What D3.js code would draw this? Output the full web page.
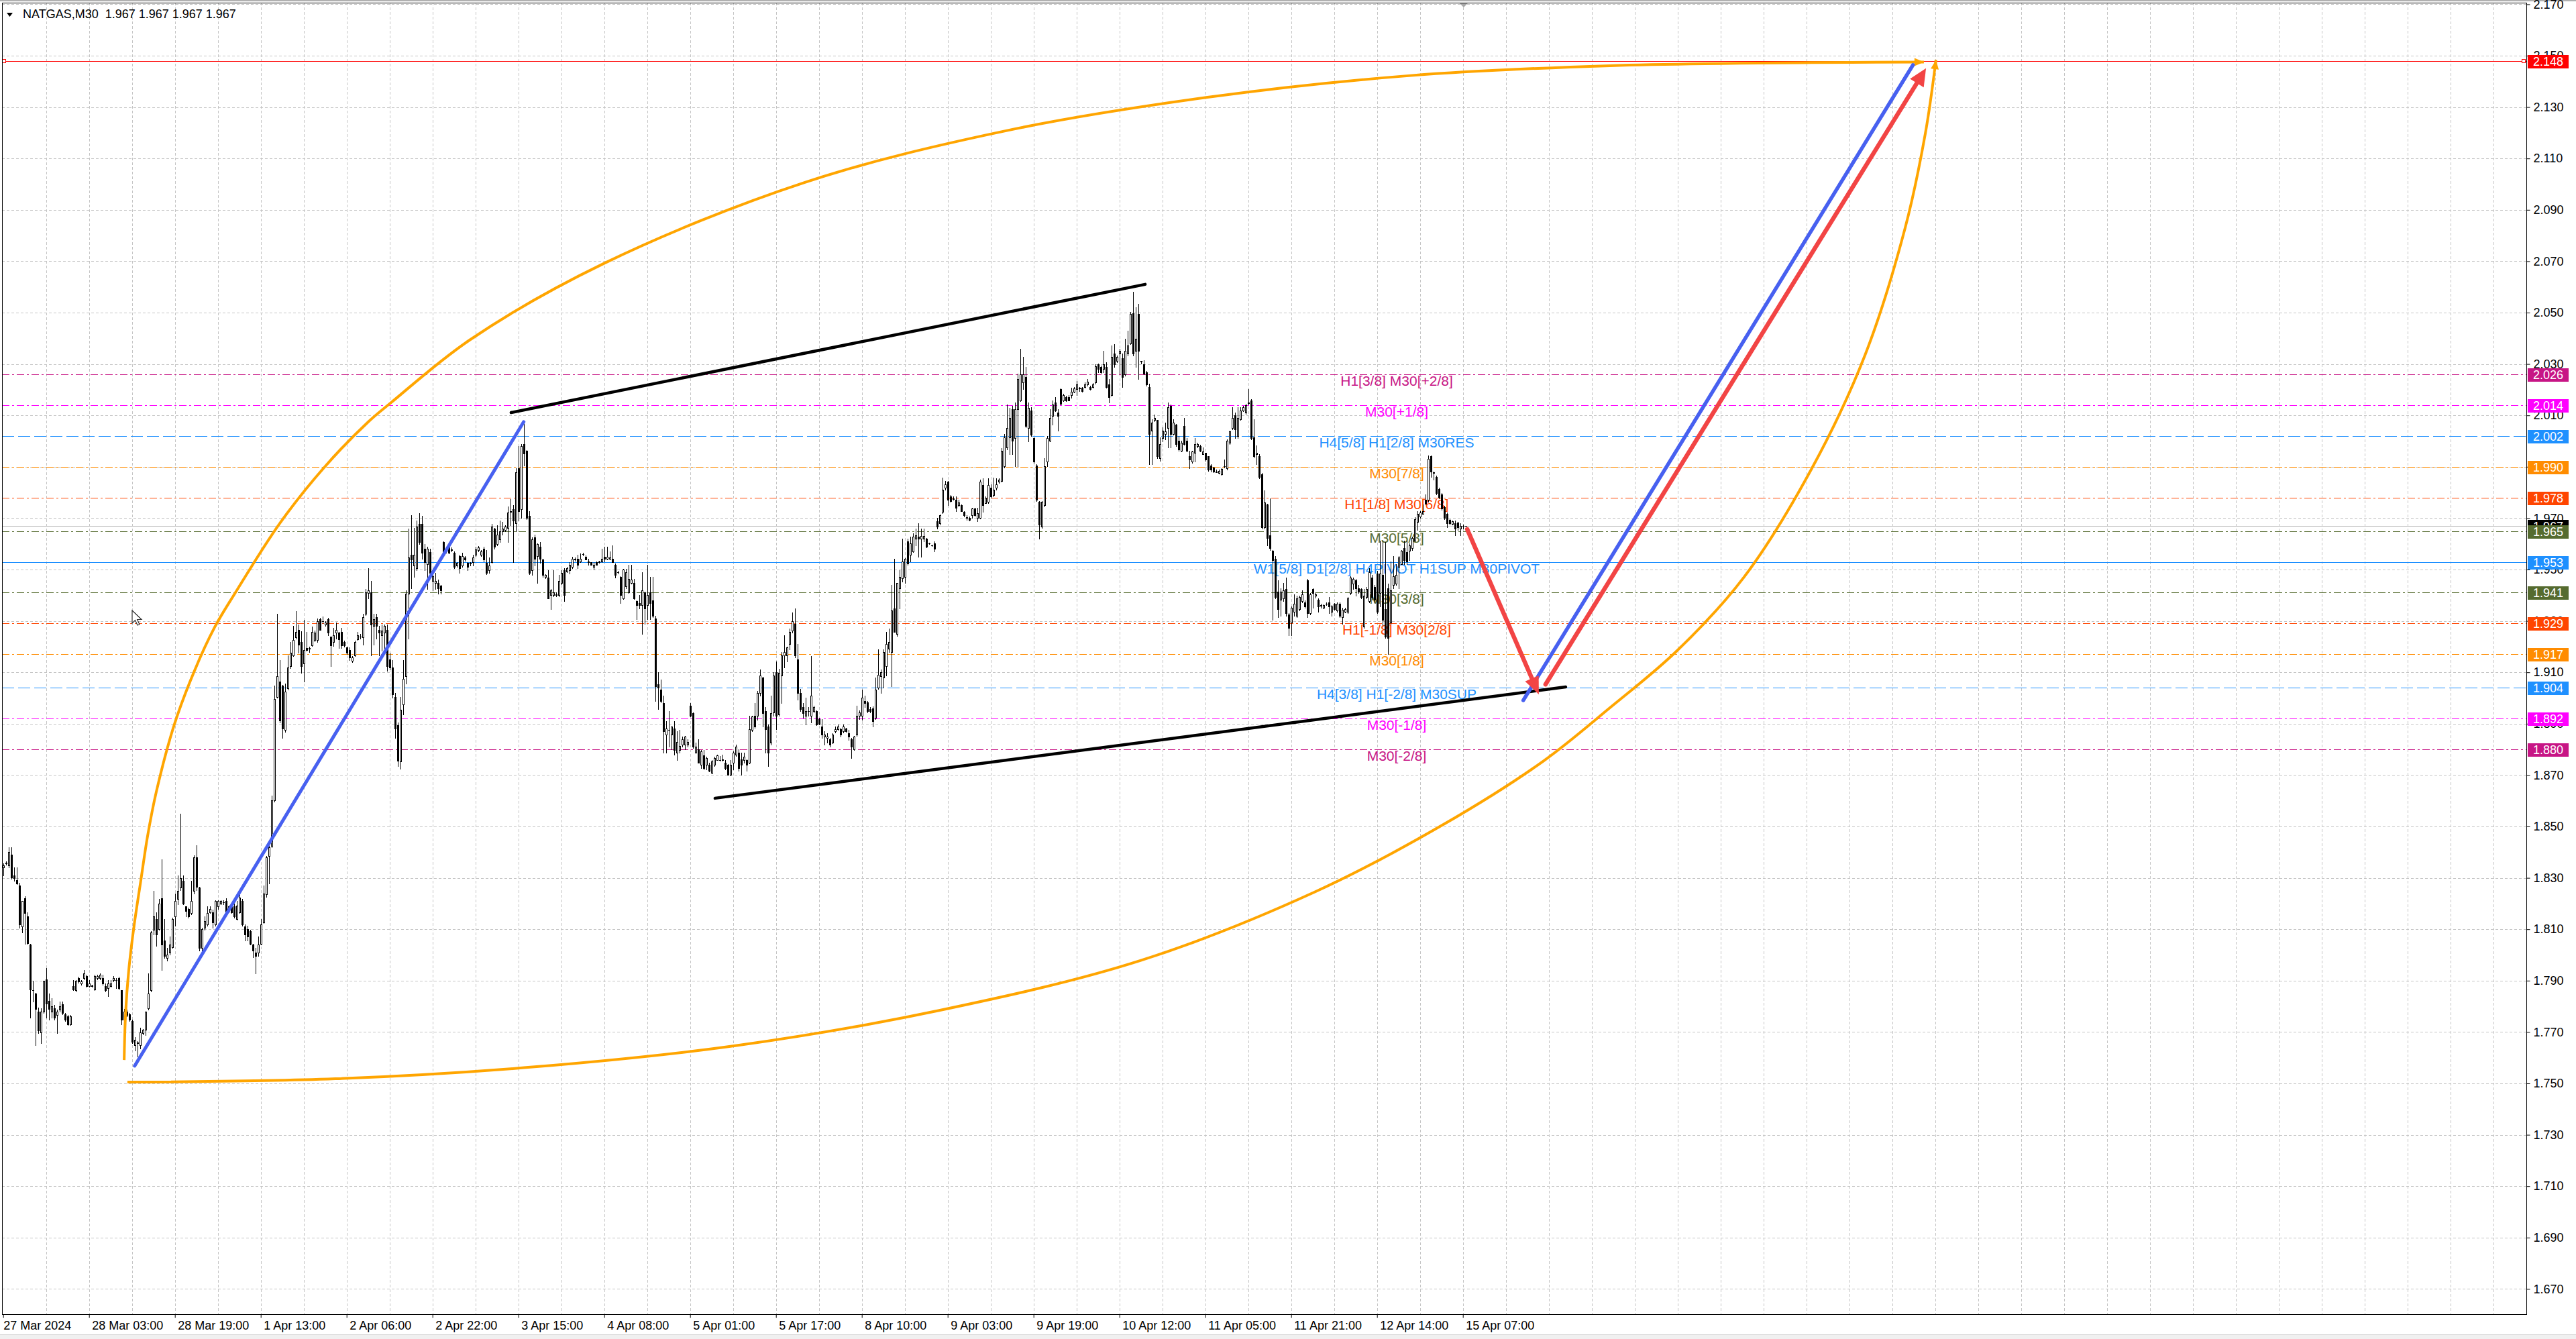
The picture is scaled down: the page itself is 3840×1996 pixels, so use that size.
<!DOCTYPE html>
<html>
<head>
<meta charset="utf-8">
<script src="https://cdn.jsdelivr.net/npm/d3@7/dist/d3.min.js"></script>
<style>
html,body{margin:0;padding:0;background:#fff;overflow:hidden;}
svg{display:block;}
</style>
</head>
<body>
<svg id="chart" width="3840" height="1996" xmlns="http://www.w3.org/2000/svg"></svg>
<script>
// ===== DATA (M30 bars, prices x 10000) =====
const opens=[
18340,18357,18349,18391,18310,18290,18271,18110,18220,18149,
18040,17864,17849,17779,17698,17779,17905,17820,17779,17792,
17766,17788,17809,17770,17761,17731,17879,17862,17910,17888,
17910,17918,17879,17880,17866,17910,17910,17910,17879,17871,
17879,17901,17903,17910,17862,17749,17779,17770,17744,17649,
17660,17649,17696,17709,17792,17862,18097,18140,18101,18220,
18057,17988,18010,18031,18149,18218,18262,18288,18188,18179,
18162,18249,18379,18262,18027,18105,18118,18166,18166,18118,
18188,18201,18206,18210,18171,18188,18188,18140,18166,18210,
18110,18101,18092,18040,18010,18010,18044,18127,18236,18385,
18423,18601,19003,19065,19047,18877,19038,19125,19166,19235,
19266,19217,19134,19194,19192,19205,19226,19226,19306,19300,
19286,19306,19238,19217,19254,19254,19256,19217,19196,19187,
19146,19166,19229,19240,19235,19327,19408,19410,19281,19315,
19266,19244,19254,19266,19150,19120,19003,18895,18754,18975,
19085,19407,19557,19516,19506,19677,19677,19580,19520,19569,
19456,19447,19447,19437,19608,19571,19585,19578,19566,19516,
19552,19516,19548,19525,19524,19529,19557,19575,19557,19580,
19525,19497,19529,19658,19598,19617,19649,19654,19663,19725,
19736,19681,19893,19736,19989,19962,19709,19497,19626,19552,
19589,19539,19470,19468,19401,19401,19403,19401,19447,19497,
19493,19497,19510,19541,19541,19532,19560,19550,19532,19528,
19510,19528,19530,19532,19550,19541,19541,19541,19519,19490,
19471,19389,19436,19410,19449,19449,19376,19369,19362,19412,
19362,19412,19380,19310,19054,19032,18980,18858,18877,18858,
18881,18788,18797,18818,18818,18818,18971,18940,18788,18801,
18740,18777,18740,18740,18710,18740,18758,18759,18758,18749,
18740,18701,18749,18779,18788,18762,18758,18758,18749,18875,
18932,18932,19019,19080,18949,18888,18827,18945,19101,18936,
19088,19167,19167,19210,19262,19289,19149,19019,18966,18932,
18950,18932,18949,18949,18919,18888,18849,18845,18840,18827,
18871,18879,18879,18871,18881,18862,18840,18801,18858,18932,
18932,18988,18984,18958,18960,18923,19040,19084,19080,19123,
19193,19180,19349,19249,19428,19467,19471,19610,19558,19571,
19619,19628,19619,19619,19619,19602,19594,19602,19689,19680,
19724,19819,19841,19785,19776,19772,19750,19750,19724,19703,
19702,19711,19737,19702,19702,19830,19758,19763,19819,19790,
19819,19841,19845,19902,19976,20015,20124,20011,20124,20159,
20228,20250,20050,20120,20011,19906,19763,19667,19750,19920,
20002,20098,20150,20111,20202,20159,20172,20172,20180,20192,
20202,20207,20207,20211,20220,20211,20211,20228,20300,20289,
20280,20289,20220,20180,20341,20311,20341,20322,20259,20341,
20381,20498,20350,20494,20311,20300,20268,20211,20041,20081,
20081,19933,20011,20028,20050,20137,20028,20063,20002,19963,
20059,20002,19941,19920,19954,19980,19980,19950,19954,19941,
19906,19898,19880,19876,19870,19901,19893,19994,20050,20100,
20020,20085,20120,20111,20148,20159,20015,19950,19942,19870,
19665,19752,19634,19572,19541,19413,19382,19387,19423,19325,
19294,19336,19320,19346,19377,19372,19459,19331,19423,19397,
19382,19361,19351,19366,19372,19336,19367,19341,19367,19315,
19336,19336,19408,19444,19459,19428,19423,19279,19392,19377,
19469,19433,19485,19408,19480,19346,19428,19294,19439,19444,
19510,19521,19583,19567,19572,19583,19613,19685,19706,19716,
19772,19772,19942,19878,19860,19814,19793,19742,19716,19693,
19677,19680,19682,19660,19670,19670];
const highs=[
18357,18365,18418,18418,18340,18340,18281,18210,18229,18166,
18044,17899,17852,17796,17792,17899,17949,17850,17831,17805,
17788,17818,17818,17775,17766,17766,17901,17901,17914,17901,
17940,17923,17901,17884,17923,17923,17927,17923,17888,17901,
17901,17918,17910,17914,17864,17790,17788,17775,17749,17679,
17665,17718,17712,17779,17927,18092,18249,18166,18218,18371,
18140,18027,18071,18145,18240,18310,18549,18310,18190,18185,
18288,18388,18427,18266,18105,18149,18188,18188,18175,18214,
18214,18214,18214,18220,18192,18192,18201,18210,18236,18218,
18118,18114,18097,18044,18027,18071,18140,18271,18385,18427,
18620,19047,19327,19148,19050,19056,19166,19217,19281,19337,
19286,19260,19304,19258,19200,19277,19262,19310,19313,19318,
19300,19313,19240,19272,19295,19258,19272,19222,19200,19196,
19162,19222,19258,19250,19327,19424,19506,19456,19327,19327,
19281,19286,19286,19286,19175,19148,19019,18904,19005,19148,
19419,19658,19711,19663,19690,19720,19709,19598,19589,19580,
19488,19488,19461,19440,19610,19589,19589,19585,19571,19530,
19557,19566,19552,19529,19530,19557,19589,19592,19575,19589,
19575,19548,19677,19663,19672,19690,19686,19672,19745,19773,
19750,19893,19980,19989,20072,19966,19727,19626,19635,19603,
19608,19543,19482,19497,19424,19497,19410,19479,19497,19506,
19510,19528,19550,19548,19558,19563,19565,19554,19541,19530,
19528,19532,19535,19580,19589,19589,19571,19593,19523,19495,
19473,19502,19502,19519,19519,19463,19380,19402,19489,19415,
19519,19471,19471,19319,19101,19071,19010,18910,18949,18890,
18910,18871,18875,18849,18853,18840,18980,18945,18827,18840,
18797,18797,18771,18749,18758,18771,18779,18775,18779,18758,
18742,18758,18792,18818,18801,18788,18788,18762,18932,18932,
18980,19027,19110,19082,18966,18897,19010,19101,19141,19114,
19180,19245,19201,19269,19332,19349,19210,19036,18980,19001,
18966,19162,18970,18953,18923,18919,18871,18862,18845,18862,
18888,18897,18884,18897,18885,18875,18845,18853,18971,18953,
19032,19010,18988,18966,18968,19080,19188,19110,19188,19258,
19271,19441,19541,19449,19497,19619,19545,19619,19628,19641,
19658,19680,19658,19658,19624,19604,19597,19610,19702,19715,
19859,19845,19845,19790,19785,19785,19772,19754,19726,19711,
19705,19741,19740,19741,19850,19854,19785,19854,19832,19859,
19854,19854,19972,20028,20141,20128,20137,20150,20263,20359,
20328,20289,20150,20133,20015,19911,19767,19767,19933,20020,
20124,20159,20172,20124,20204,20185,20176,20180,20207,20211,
20233,20211,20210,20228,20241,20215,20225,20300,20301,20293,
20350,20307,20241,20372,20378,20333,20359,20341,20398,20429,
20502,20581,20520,20533,20312,20315,20272,20224,20085,20102,
20083,20015,20054,20072,20150,20141,20085,20067,20020,20002,
20089,20011,19963,19963,20011,19994,19985,19976,19955,19942,
19911,19900,19890,19890,19893,19928,20007,20041,20133,20111,
20133,20133,20137,20146,20202,20163,20086,19983,19950,19875,
19809,19755,19778,19575,19552,19459,19428,19449,19469,19331,
19356,19403,19397,19397,19418,19380,19464,19408,19428,19410,
19387,19367,19365,19372,19392,19361,19370,19372,19372,19351,
19350,19392,19474,19469,19464,19439,19428,19423,19433,19505,
19480,19439,19495,19613,19613,19608,19444,19531,19552,19521,
19552,19577,19613,19613,19603,19628,19703,19726,19726,19752,
19793,19944,19944,19880,19865,19819,19798,19747,19721,19695,
19690,19690,19685,19680,19675,19670];
const lows=[
18310,18350,18340,18297,18288,18275,18105,18088,18044,18044,
17757,17818,17649,17696,17657,17775,17757,17749,17757,17749,
17696,17779,17770,17744,17727,17727,17862,17858,17892,17884,
17905,17875,17877,17875,17862,17905,17905,17884,17858,17840,
17875,17897,17871,17866,17731,17740,17760,17744,17657,17627,
17605,17636,17690,17688,17788,17858,18079,18036,18097,17940,
17988,17979,18001,18027,18114,18197,18253,18197,18149,18145,
18158,18240,18253,18018,18018,18097,18114,18162,18105,18114,
18179,18197,18197,18162,18166,18162,18145,18136,18162,18114,
18057,18057,18040,17992,17927,17997,18040,18123,18227,18279,
18418,18596,19001,18904,18845,18868,19033,19116,19164,19231,
19175,19097,19065,19185,19180,19203,19220,19217,19264,19292,
19280,19244,19125,19203,19231,19194,19194,19200,19170,19148,
19140,19162,19226,19232,19208,19323,19387,19166,19208,19231,
19166,19185,19175,19107,19110,19001,18845,18734,18725,18936,
19056,19231,19428,19470,19497,19598,19543,19497,19424,19483,
19419,19424,19405,19405,19562,19566,19562,19570,19506,19510,
19488,19511,19535,19497,19515,19516,19552,19570,19552,19532,
19483,19488,19525,19580,19594,19608,19635,19650,19608,19672,
19529,19649,19690,19700,19906,19695,19483,19479,19516,19447,
19525,19470,19465,19387,19346,19396,19395,19396,19442,19378,
19490,19484,19506,19535,19506,19530,19555,19539,19519,19517,
19499,19517,19526,19530,19532,19539,19539,19528,19469,19484,
19369,19384,19428,19409,19445,19384,19308,19349,19249,19289,
19308,19308,19315,18988,18958,18984,18788,18788,18810,18801,
18779,18758,18788,18810,18801,18810,18927,18805,18788,18749,
18727,18723,18723,18714,18705,18736,18758,18757,18757,18723,
18701,18698,18723,18775,18718,18701,18749,18718,18745,18871,
18884,18914,19010,18888,18788,18736,18818,18932,18879,18932,
18980,19119,19141,19188,19254,19158,18993,18949,18923,18897,
18932,18906,18945,18893,18897,18845,18818,18827,18810,18823,
18866,18875,18849,18866,18868,18836,18766,18797,18853,18919,
18914,18966,18945,18945,18888,18919,19036,19019,19040,19088,
19180,19045,19258,19241,19349,19454,19449,19519,19532,19567,
19593,19550,19550,19610,19585,19600,19591,19571,19658,19676,
19719,19811,19750,19763,19772,19728,19745,19726,19706,19693,
19690,19702,19708,19689,19698,19724,19758,19758,19780,19785,
19811,19837,19841,19898,19967,19950,19950,19902,19902,20155,
20202,20054,19998,20020,19915,19767,19619,19663,19745,19902,
19998,20063,20115,20041,20141,20155,20155,20159,20168,20189,
20180,20194,20192,20207,20215,20200,20208,20224,20268,20265,
20268,20207,20150,20176,20289,20307,20263,20211,20255,20333,
20376,20333,20289,20241,20302,20259,20215,19911,19911,20076,
19933,19924,19998,20007,19976,19976,20024,19980,19963,19959,
19985,19959,19893,19915,19920,19976,19959,19950,19924,19885,
19880,19878,19878,19874,19867,19898,19889,19989,20046,20011,
20011,20081,20115,20107,20141,20007,19937,19911,19855,19660,
19660,19593,19577,19305,19387,19315,19320,19377,19320,19243,
19243,19320,19315,19341,19372,19350,19315,19325,19351,19390,
19336,19351,19348,19361,19331,19320,19343,19336,19315,19289,
19333,19331,19403,19423,19397,19408,19387,19274,19387,19372,
19382,19372,19331,19356,19284,19233,19171,19289,19428,19439,
19428,19521,19521,19521,19536,19577,19613,19654,19701,19716,
19757,19765,19860,19850,19793,19778,19732,19695,19665,19675,
19675,19634,19654,19634,19660,19670];
const closes=[
18349,18359,18401,18301,18298,18279,18118,18210,18162,18046,
17866,17862,17790,17707,17779,17899,17810,17790,17801,17757,
17779,17801,17774,17749,17731,17761,17866,17899,17897,17897,
17927,17879,17890,17879,17918,17918,17923,17888,17862,17888,
17888,17910,17901,17871,17749,17779,17766,17749,17662,17670,
17657,17698,17709,17779,17849,18088,18149,18079,18201,18040,
17997,18001,18040,18140,18210,18249,18298,18201,18171,18149,
18210,18379,18266,18027,18101,18131,18162,18179,18127,18210,
18210,18210,18205,18166,18188,18166,18149,18192,18223,18118,
18079,18071,18044,18018,17997,18040,18118,18240,18379,18418,
18601,18996,19085,18913,18881,19024,19120,19175,19226,19256,
19208,19125,19187,19187,19194,19256,19254,19300,19266,19299,
19295,19254,19205,19244,19266,19229,19205,19205,19177,19157,
19159,19217,19244,19238,19315,19410,19419,19286,19306,19281,
19254,19263,19281,19125,19120,19015,18881,18757,18955,19074,
19407,19548,19539,19557,19667,19608,19566,19529,19580,19488,
19474,19456,19428,19419,19566,19580,19566,19577,19511,19525,
19506,19552,19539,19511,19525,19548,19578,19587,19571,19539,
19488,19516,19667,19589,19635,19649,19658,19667,19722,19727,
19690,19879,19727,19980,19952,19700,19488,19617,19543,19598,
19543,19479,19479,19387,19419,19410,19401,19456,19488,19401,
19506,19519,19541,19540,19519,19541,19561,19539,19528,19519,
19519,19519,19532,19541,19541,19550,19548,19530,19480,19489,
19402,19499,19489,19463,19461,19389,19362,19361,19419,19349,
19402,19369,19319,19045,19040,18988,18871,18881,18875,18890,
18797,18829,18814,18840,18849,18829,18932,18810,18810,18749,
18792,18727,18766,18718,18753,18766,18777,18758,18760,18727,
18701,18740,18788,18810,18727,18740,18771,18740,18879,18927,
18888,19019,19088,18940,18879,18788,18940,19088,18932,19097,
19167,19180,19197,19258,19299,19167,19019,18958,18940,18949,
18949,19010,18966,18897,18899,18858,18858,18849,18818,18858,
18879,18888,18858,18888,18871,18849,18810,18849,18932,18945,
19001,18980,18949,18949,18910,19032,19090,19101,19180,19210,
19219,19341,19258,19449,19471,19532,19541,19523,19602,19628,
19632,19619,19630,19630,19589,19602,19593,19580,19667,19711,
19811,19832,19772,19767,19775,19741,19760,19728,19711,19702,
19693,19737,19711,19719,19841,19750,19780,19828,19785,19811,
19832,19850,19963,20015,20050,20089,20002,20124,20241,20259,
20259,20059,20128,20024,19920,19772,19676,19763,19902,20011,
20089,20141,20120,20098,20146,20180,20159,20159,20192,20204,
20220,20206,20194,20220,20230,20202,20221,20291,20280,20268,
20300,20211,20172,20328,20298,20328,20350,20250,20350,20372,
20494,20341,20398,20350,20310,20263,20220,20028,20072,20089,
19941,19989,20041,20039,20133,20028,20072,19989,19967,19994,
19989,19963,19928,19959,19989,19989,19963,19959,19928,19889,
19889,19880,19879,19885,19891,19902,20002,20037,20089,20046,
20089,20120,20133,20140,20150,20011,19942,19955,19860,19665,
19762,19624,19583,19536,19392,19346,19413,19418,19331,19274,
19351,19367,19389,19392,19403,19356,19331,19403,19408,19403,
19356,19360,19361,19367,19356,19356,19346,19367,19320,19344,
19346,19387,19469,19464,19428,19413,19392,19397,19423,19490,
19392,19382,19336,19485,19305,19238,19233,19418,19474,19480,
19546,19572,19536,19531,19593,19623,19695,19716,19721,19726,
19757,19930,19880,19875,19798,19783,19737,19701,19680,19680,
19687,19660,19665,19670,19670,19670];

const dateTickBars=[0,32,64,96,128,160,192,224,256,288,320,352,384,416,448,480,512,544];
const dateTickLabels=["27 Mar 2024","28 Mar 03:00","28 Mar 19:00","1 Apr 13:00","2 Apr 06:00","2 Apr 22:00","3 Apr 15:00","4 Apr 08:00","5 Apr 01:00","5 Apr 17:00","8 Apr 10:00","9 Apr 03:00","9 Apr 19:00","10 Apr 12:00","11 Apr 05:00","11 Apr 21:00","12 Apr 14:00","15 Apr 07:00"];
const priceTicks=[1.670,1.690,1.710,1.730,1.750,1.770,1.790,1.810,1.830,1.850,1.870,1.890,1.910,1.930,1.950,1.970,1.990,2.010,2.030,2.050,2.070,2.090,2.110,2.130,2.150,2.170];

const levelPrices=[2.026,2.014,2.002,1.990,1.978,1.965,1.953,1.941,1.929,1.917,1.904,1.892,1.880];
const levelNames=["H1[3/8] M30[+2/8]","M30[+1/8]","H4[5/8] H1[2/8] M30RES","M30[7/8]","H1[1/8] M30[6/8]","M30[5/8]","W1[5/8] D1[2/8] H4PIVOT H1SUP M30PIVOT","M30[3/8]","H1[-1/8] M30[2/8]","M30[1/8]","H4[3/8] H1[-2/8] M30SUP","M30[-1/8]","M30[-2/8]"];
const levelColors=["#C71585","#FF00FF","#1E90FF","#FF8C00","#FF4500","#556B2F","#1E90FF","#556B2F","#FF4500","#FF8C00","#1E90FF","#FF00FF","#C71585"];
const levelKinds=["dashdot","dashdot","dash","dashdot","dashdot","dashdot","solid","dashdot","dashdot","dashdot","dash","dashdot","dashdot"];

const targetPrice=2.148;
const lastPrice=1.967;

// drawing objects: [bar index, price]
const blueTrend=[[49,1.7568],[194,2.0075]];
const upperChannel=[[189.3,2.0111],[425.6,2.0610]];
const lowerChannel=[[265.3,1.8610],[582.3,1.9043]];
const redDownArrow=[[545.6,1.9657],[572.3,1.9014]];
const blueUpLine=[[566.5,1.8991],[711.75,2.1464]];
const redUpArrow=[[574.8,1.9053],[716.6,2.1451]];
const upperArc=[[45.1,1.7591],[45.6,1.7766],[46.8,1.7939],[48.8,1.8114],[51.3,1.8289],[53.8,1.8461],[57.1,1.8636],[63.8,1.8897],[71.3,1.9106],[78.8,1.9275],[86.3,1.9406],[103.1,1.9680],[119.6,1.9897],[136.3,2.0077],[144.6,2.0150],[173.8,2.0393],[223.8,2.0691],[298.8,2.1007],[373.8,2.1208],[448.8,2.1338],[523.8,2.1422],[598.8,2.1461],[673.8,2.1473],[715.8,2.1475]];
const lowerArc=[[46.3,1.7505],[123.8,1.7518],[198.8,1.7565],[273.8,1.7648],[348.8,1.7784],[423.8,1.7978],[488.6,1.8244],[536.3,1.8505],[573.8,1.8753],[598.8,1.8962],[623.8,1.9184],[648.8,1.9471],[673.8,1.9889],[693.8,2.0333],[708.8,2.0829],[716.3,2.1195],[720.3,2.1484]];

// ===== LAYOUT =====
const W=3840,H=1996;
const P={left:3,top:4,right:3766,bottom:1959};
const FONT="'Liberation Sans', Arial, sans-serif";
const svg=d3.select("#chart");
const x=d3.scaleLinear().domain([0,940]).range([4.7,4.7+940*4]);
const y=d3.scaleLinear().domain([1.670,2.150]).range([1921.4,83]);

svg.append("rect").attr("width",W).attr("height",H).attr("fill","#fff");
svg.append("rect").attr("x",0).attr("y",0).attr("width",W).attr("height",2).attr("fill","#b0b0b0");
svg.append("rect").attr("x",0).attr("y",1990).attr("width",W).attr("height",6).attr("fill","#f0f0f0");
svg.append("line").attr("x1",0).attr("x2",W).attr("y1",1989.5).attr("y2",1989.5).attr("stroke","#d8d8d8");

const defs=svg.append("defs");
defs.append("clipPath").attr("id","clip").append("rect")
  .attr("x",P.left).attr("y",P.top).attr("width",P.right-P.left).attr("height",P.bottom-P.top);

const plot=svg.append("g").attr("clip-path","url(#clip)");

// grid
const gridBars=d3.range(16,940,16);
plot.append("g").selectAll("line").data(gridBars).join("line")
  .attr("x1",d=>Math.round(x(d))+0.5).attr("x2",d=>Math.round(x(d))+0.5)
  .attr("y1",P.top).attr("y2",P.bottom)
  .attr("stroke","#c4c4c4").attr("stroke-dasharray","4,3").attr("shape-rendering","crispEdges");
plot.append("g").selectAll("line").data(priceTicks).join("line")
  .attr("x1",P.left).attr("x2",P.right)
  .attr("y1",d=>Math.round(y(d))+0.5).attr("y2",d=>Math.round(y(d))+0.5)
  .attr("stroke","#c4c4c4").attr("stroke-dasharray","4,3").attr("shape-rendering","crispEdges");

// level lines
const dashFor=k=>k==="dashdot"?"11,4,3,4":(k==="dash"?"18,6":null);
plot.append("g").selectAll("line").data(levelPrices).join("line")
  .attr("x1",P.left).attr("x2",P.right)
  .attr("y1",d=>Math.round(y(d))+0.5).attr("y2",d=>Math.round(y(d))+0.5)
  .attr("stroke",(d,i)=>levelColors[i]).attr("stroke-width",1)
  .attr("stroke-dasharray",(d,i)=>dashFor(levelKinds[i])).attr("shape-rendering","crispEdges");
// target and last price lines
plot.append("line").attr("x1",P.left).attr("x2",P.right)
  .attr("y1",Math.round(y(targetPrice))+0.5).attr("y2",Math.round(y(targetPrice))+0.5)
  .attr("stroke","#FF0000").attr("shape-rendering","crispEdges");
plot.append("line").attr("x1",P.left).attr("x2",P.right)
  .attr("y1",Math.round(y(lastPrice))+0.5).attr("y2",Math.round(y(lastPrice))+0.5)
  .attr("stroke","#C0C0C0").attr("shape-rendering","crispEdges");
[6, P.right-4].forEach(px=>{
  plot.append("rect").attr("x",px-2.5).attr("y",Math.round(y(targetPrice))-2.5).attr("width",5).attr("height",5)
    .attr("fill","#fff").attr("stroke","#FF0000");
});

// level labels
const LABEL_X=2082;
plot.append("g").selectAll("text").data(levelPrices).join("text")
  .attr("x",LABEL_X).attr("y",d=>y(d)+17).attr("text-anchor","middle")
  .attr("font-family",FONT).attr("font-size",21).attr("fill",(d,i)=>levelColors[i])
  .text((d,i)=>levelNames[i]);

// candles
const idx=d3.range(opens.length);
const cg=plot.append("g").attr("shape-rendering","crispEdges");
const cs=cg.selectAll("g").data(idx).join("g");
cs.each(function(i){
  const o=opens[i]/1e4,c=closes[i]/1e4;
  const h=Math.max(highs[i]/1e4,o,c), l=Math.min(lows[i]/1e4,o,c);
  const cx=Math.round(x(i));
  const g=d3.select(this);
  const yH=Math.round(y(h)), yL=Math.round(y(l));
  const yT=Math.round(y(Math.max(o,c))), yB=Math.round(y(Math.min(o,c)));
  g.append("line").attr("x1",cx+0.5).attr("x2",cx+0.5).attr("y1",yH).attr("y2",yL+1).attr("stroke","#000");
  if(yB-yT<1){
    g.append("line").attr("x1",cx-1).attr("x2",cx+2).attr("y1",yT+0.5).attr("y2",yT+0.5).attr("stroke","#000");
  } else {
    g.append("rect").attr("x",cx-0.5).attr("y",yT+0.5).attr("width",2).attr("height",yB-yT)
      .attr("fill",c>=o?"#fff":"#000").attr("stroke","#000");
  }
});

// drawing objects
const line=d3.line().x(d=>x(d[0])).y(d=>y(d[1]));
const curve=d3.line().x(d=>x(d[0])).y(d=>y(d[1])).curve(d3.curveCatmullRom.alpha(0.5));
const objs=plot.append("g");

function head(g,tip,from,len,half,color){
  const dx=tip[0]-from[0],dy=tip[1]-from[1],d=Math.hypot(dx,dy),ux=dx/d,uy=dy/d;
  const bx=tip[0]-ux*len,by=tip[1]-uy*len;
  g.append("path").attr("d",`M${tip[0]},${tip[1]}L${bx-uy*half},${by+ux*half}L${bx+uy*half},${by-ux*half}Z`).attr("fill",color);
  return [bx,by];
}
function curvedArrow(data,color,w,len,half){
  const p=objs.append("path").attr("d",curve(data)).attr("fill","none").attr("stroke",color)
    .attr("stroke-width",w).attr("stroke-linecap","butt");
  const node=p.node(),L=node.getTotalLength();
  const a=node.getPointAtLength(L),b=node.getPointAtLength(L-14);
  head(objs,[a.x,a.y],[b.x,b.y],len,half,color);
}
curvedArrow(upperArc,"#FFA500",4,14,6);
curvedArrow(lowerArc,"#FFA500",4,14,6);

function seg(data,color,w){
  objs.append("path").attr("d",line(data)).attr("fill","none").attr("stroke",color)
    .attr("stroke-width",w).attr("stroke-linecap","round");
}
function straightArrow(data,color,w,len,half){
  const s=[x(data[0][0]),y(data[0][1])],t=[x(data[1][0]),y(data[1][1])];
  const b=head(objs,t,s,len,half,color);
  objs.append("line").attr("x1",s[0]).attr("y1",s[1]).attr("x2",b[0]).attr("y2",b[1])
    .attr("stroke",color).attr("stroke-width",w).attr("stroke-linecap","round");
}
seg(upperChannel,"#000",4.5);
seg(lowerChannel,"#000",4.5);
seg(blueTrend,"#4760F0",5);
seg(blueUpLine,"#4760F0",5.5);
straightArrow(redDownArrow,"#F24444",6.5,26,11);
straightArrow(redUpArrow,"#F24444",6.5,26,12);

// frame
svg.append("line").attr("x1",P.left+0.5).attr("x2",P.left+0.5).attr("y1",P.top).attr("y2",P.bottom).attr("stroke","#000");
svg.append("line").attr("x1",P.left).attr("x2",P.right).attr("y1",P.top+0.5).attr("y2",P.top+0.5).attr("stroke","#000");
svg.append("line").attr("x1",P.right+0.5).attr("x2",P.right+0.5).attr("y1",P.top).attr("y2",P.bottom+1).attr("stroke","#000");
svg.append("line").attr("x1",P.left).attr("x2",P.right+1).attr("y1",P.bottom+0.5).attr("y2",P.bottom+0.5).attr("stroke","#000");

// right price axis
const ya=svg.append("g").attr("transform",`translate(${P.right+0.5},0)`)
  .call(d3.axisRight(y).tickValues(priceTicks).tickSize(5).tickPadding(5).tickFormat(d3.format(".3f")));
ya.select(".domain").remove();
ya.selectAll("line").attr("stroke","#000");
ya.selectAll("text").attr("font-family",FONT).attr("font-size",18).attr("fill","#000");

// bottom time axis
const xa=svg.append("g").attr("transform",`translate(0,${P.bottom+0.5})`)
  .call(d3.axisBottom(x).tickValues(dateTickBars).tickSize(5).tickFormat((d,i)=>dateTickLabels[i]));
xa.select(".domain").remove();
xa.selectAll("line").attr("stroke","#000");
xa.selectAll("text").attr("font-family",FONT).attr("font-size",18).attr("fill","#000")
  .attr("text-anchor","start").attr("x",(d,i)=>i===0?0:4).attr("dy",null).attr("y",22);

// price labels on axis
const boxes=[{p:lastPrice,c:"#000000"},{p:targetPrice,c:"#FF0000"}]
  .concat(levelPrices.map((p,i)=>({p:p,c:levelColors[i]})));
const bg=svg.append("g");
boxes.forEach(b=>{
  const py=Math.round(y(b.p));
  bg.append("rect").attr("x",P.right+2).attr("y",py-9).attr("width",61).attr("height",20).attr("fill",b.c);
  bg.append("text").attr("x",P.right+10).attr("y",py+7).attr("font-family",FONT).attr("font-size",18)
    .attr("fill","#fff").text(d3.format(".3f")(b.p));
});

// title
svg.append("path").attr("d","M10,19 L19,19 L14.5,25 Z").attr("fill","#000");
svg.append("text").attr("x",34).attr("y",27).attr("font-family",FONT).attr("font-size",18).attr("fill","#000")
  .attr("xml:space","preserve").text("NATGAS,M30  1.967 1.967 1.967 1.967");

// chart shift marker & mouse cursor
svg.append("path").attr("d",`M${x(544.3)-6},${P.top+1} L${x(544.3)+6},${P.top+1} L${x(544.3)},${P.top+7} Z`).attr("fill","#a8a8a8");
svg.append("path").attr("d","M197,910 l0,19 l4.5,-4.5 l3.5,7.5 l3,-1.3 l-3.4,-7.2 l6.4,0 Z")
  .attr("fill","#fff").attr("stroke","#333").attr("stroke-width",1.2).attr("stroke-linejoin","miter");
</script>
</body>
</html>
